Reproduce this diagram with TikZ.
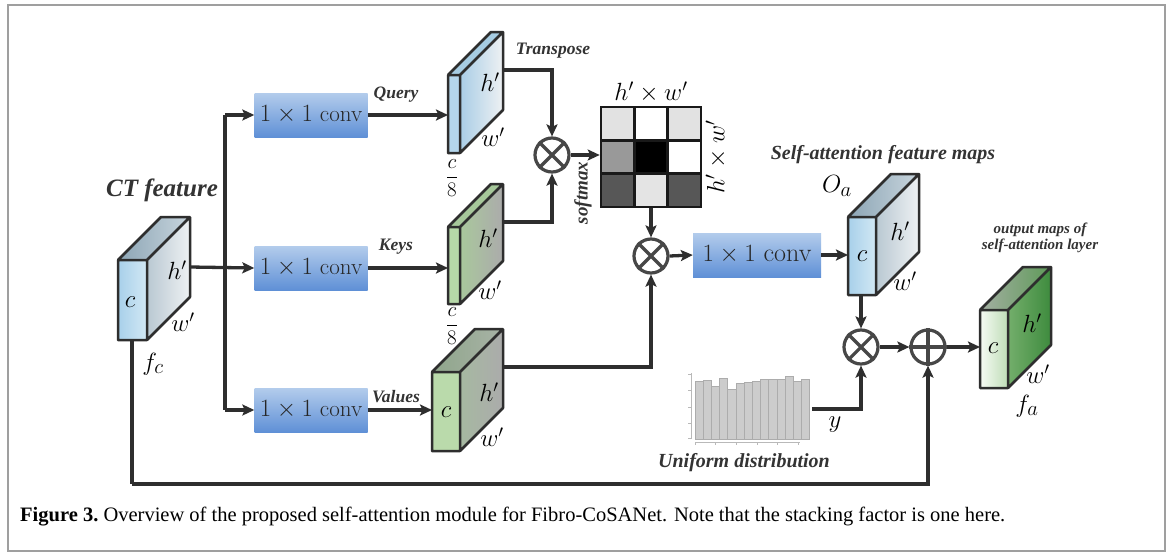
\documentclass[tikz,border=0pt]{standalone}
\usepackage{fontspec}
\newfontfamily\labfont{Liberation Serif}
\usetikzlibrary{arrows.meta,calc}
\definecolor{convtop}{HTML}{B3CCEC}
\definecolor{convbot}{HTML}{5F90D6}
\definecolor{linec}{HTML}{2E2E2E}
\newcommand\blk[6]{%
 \shade[#5 front] (#1,#2) rectangle ({#1+#3},{#2+#4});
 \shade[#5 side] ({#1+#3},#2) -- ({#1+#3+#6},{#2-#6}) -- ({#1+#3+#6},{#2+#4-#6}) -- ({#1+#3},{#2+#4}) -- cycle;
 \shade[#5 top] (#1,#2) -- ({#1+#6},{#2-#6}) -- ({#1+#3+#6},{#2-#6}) -- ({#1+#3},#2) -- cycle;
 \draw[blkline] (#1,#2) rectangle ({#1+#3},{#2+#4}) ({#1+#3},{#2+#4}) -- ({#1+#3+#6},{#2+#4-#6}) -- ({#1+#3+#6},{#2-#6}) -- ({#1+#6},{#2-#6}) -- (#1,#2) ({#1+#3},#2) -- ({#1+#3+#6},{#2-#6});
}
\tikzset{
 blkline/.style={draw=linec, line width=2.5pt, line join=round},
 ct front/.style={left color=Aqft, right color=Aqfr},
 ct side/.style={left color=Aqsl, right color=Aqsr},
 ct top/.style={left color=Aqtl, right color=Aqtr},
 qy front/.style={left color=Bqf, right color=Bqf},
 qy side/.style={left color=Bqsl, right color=Bqsr},
 qy top/.style={left color=Bqt, right color=Bqt},
 ky front/.style={left color=Kf, right color=Kf},
 ky side/.style={left color=Ksl, right color=Ksr},
 ky top/.style={left color=Kt, right color=Kt},
 vl front/.style={left color=Vf, right color=Vf},
 vl side/.style={left color=Vsl, right color=Vsr},
 vl top/.style={left color=Vtl, right color=Vtr},
 ou front/.style={left color=Of1, right color=Of2},
 ou side/.style={left color=Osl, right color=Osr},
 ou top/.style={left color=Otl, right color=Otr},
 conn/.style={line width=3.3pt, draw=linec, -{Stealth[length=12pt,width=11pt,inset=2.5pt]}},
 plain/.style={line width=3.3pt, draw=linec},
 convbox/.style={rectangle, top color=convtop, bottom color=convbot, minimum width=113pt, minimum height=44pt, inner sep=0pt, font=\fontsize{23}{23}\selectfont, text=black!85},
 op/.style={circle, draw=black!72, line width=3.2pt, minimum size=34pt, inner sep=0pt, fill=white},
 oplines/.style={draw=black!72, line width=3.2pt},
 lbl/.style={font=\labfont\bfseries\itshape\fontsize{17.5}{17.5}\selectfont, text=black!80, inner sep=0pt},
 mlab/.style={font=\fontsize{24}{24}\selectfont, inner sep=0pt},
 fraclab/.style={font=\fontsize{21}{21}\selectfont, inner sep=0pt},
}
\definecolor{Aqft}{HTML}{A8D0EA}\definecolor{Aqfr}{HTML}{D2E8F4}
\definecolor{Aqsl}{HTML}{B9C8D2}\definecolor{Aqsr}{HTML}{EEF1F3}
\definecolor{Aqtl}{HTML}{8CA5B5}\definecolor{Aqtr}{HTML}{C8D5DD}
\definecolor{Bqf}{HTML}{B4D6EC}
\definecolor{Bqsl}{HTML}{A9CDE6}\definecolor{Bqsr}{HTML}{EEF1F3}
\definecolor{Bqt}{HTML}{A6CCE2}
\definecolor{Kf}{HTML}{B6D8A8}
\definecolor{Ksl}{HTML}{A9C89C}\definecolor{Ksr}{HTML}{ABABAB}
\definecolor{Kt}{HTML}{A6C79A}
\definecolor{Vf}{HTML}{BADAAB}
\definecolor{Vsl}{HTML}{A6B9A1}\definecolor{Vsr}{HTML}{ABABAB}
\definecolor{Vtl}{HTML}{8FA58B}\definecolor{Vtr}{HTML}{A8B3A6}
\definecolor{Of1}{HTML}{F6FAF4}\definecolor{Of2}{HTML}{BEDDB6}
\definecolor{Osl}{HTML}{73AE6B}\definecolor{Osr}{HTML}{3E8B3E}
\definecolor{Otl}{HTML}{A4AFA2}\definecolor{Otr}{HTML}{5E9A59}
\begin{document}
\begin{tikzpicture}[x=1pt,y=-1pt]
\useasboundingbox (0,0) rectangle (1171,555);
\fill[white] (0,0) rectangle (1171,555);
\draw[gray!75, line width=2.2pt] (8,5) rectangle (1165,551);

% blocks
\blk{118}{260}{29}{80}{ct}{43}
\blk{448}{75}{12}{78}{qy}{43}
\blk{448}{227}{12}{77}{ky}{43}
\blk{432}{372}{28}{79}{vl}{43}
\blk{848}{217}{28}{78}{ct}{43}
\blk{980}{310}{28}{78}{ou}{43}

% attention matrix
\foreach \c [count=\i from 0] in {E2E2E2,FFFFFF,E2E2E2,999999,000000,FFFFFF,575757,E4E4E4,575757}{
  \pgfmathtruncatemacro\r{div(\i,3)}
  \pgfmathtruncatemacro\k{mod(\i,3)}
  \definecolor{cellc}{HTML}{\c}
  \fill[cellc] ({601+\k*33.33},{107+\r*33.33}) rectangle ({601+(\k+1)*33.33},{107+(\r+1)*33.33});
}
\node[draw=black!90, line width=2.6pt, minimum size=100pt, inner sep=0pt] (att) at (651,157) {};
\draw[black!90, line width=2.6pt] (634.33,107) -- (634.33,207) (667.67,107) -- (667.67,207) (601,140.33) -- (701,140.33) (601,173.67) -- (701,173.67);

% histogram
\foreach \t [count=\i from 0] in {381,380,386,378,389,383,382,381,379,379,379,376,381,379}{
  \filldraw[fill=gray!40, draw=gray!65, line width=0.8pt] ({695+\i*8.2},439) rectangle ({695+(\i+1)*8.2},\t);
}
\draw[gray!55, line width=0.7pt] (691,373) -- (691,439);
\foreach \yy in {374,390,407,423,438} \draw[gray!55, line width=0.7pt] (688,\yy) -- (691,\yy);
\draw[gray!55, line width=0.7pt] (695,442) -- (800,442);
\foreach \xx in {695,715,736,757,777,798} \draw[gray!55, line width=0.7pt] (\xx,442) -- (\xx,445);
\coordinate (histout) at (812,409);

% conv boxes
\node[convbox] (cq) at (311,115) {$1\times1$ conv};
\node[convbox] (ck) at (311,268) {$1\times1$ conv};
\node[convbox] (cv) at (311,410) {$1\times1$ conv};
\node[convbox, minimum width=128pt, font=\fontsize{26}{26}\selectfont] (cm) at (757,255) {$1\times1$ conv};

% operators
\node[op] (m1) at (552,155) {};
\node[op] (m2) at (651,256) {};
\node[op] (m3) at (861,347) {};
\node[op] (p1) at (928,347) {};
\foreach \n in {m1,m2,m3} \draw[oplines] (\n.north east) -- (\n.south west) (\n.north west) -- (\n.south east);
\draw[oplines] (p1.north) -- (p1.south) (p1.west) -- (p1.east);

% anchor coordinates on blocks
\coordinate (ctout) at (190,267);
\coordinate (ctbot) at (132,341);
\coordinate (tq) at (225,115);
\coordinate (tv) at (225,410);
\coordinate (qin) at (448,115);
\coordinate (kin) at (448,268);
\coordinate (vin) at (432,410);
\coordinate (qout) at (503,70);
\coordinate (kout) at (502,222);
\coordinate (vout) at (503,367);
\coordinate (oin) at (848,255);
\coordinate (obot) at (861,296);
\coordinate (fin) at (980,347);
\coordinate (bl) at (132,484);

% connectors
\draw[plain] (tq) -- (tv);
\draw[conn] (tq) -- (cq.west);
\draw[conn] (ctout) -- (ck.west);
\draw[conn] (tv) -- (cv.west);
\draw[conn] (cq.east) -- (qin);
\draw[conn] (ck.east) -- (kin);
\draw[conn] (cv.east) -- (vin);
\draw[conn] (qout) -| (m1.north);
\draw[conn] (kout) -| (m1.south);
\draw[conn] (m1.east) -- (m1.east -| att.west);
\draw[conn] (att.south) -- (m2.north);
\draw[conn] (vout) -| (m2.south);
\draw[conn] (m2.east) -- (cm.west);
\draw[conn] (cm.east) -- (oin);
\draw[conn] (obot) -- (m3.north);
\draw[conn] (histout) -| (m3.south);
\draw[conn] (m3.east) -- (p1.west);
\draw[conn] (p1.east) -- (fin);
\draw[plain] (ctbot) -- (bl);
\draw[conn] (bl) -| (p1.south);

% block labels
\node[mlab] (l1) at (130,302) {$c$};
\node[mlab] (l2) at (177,270) {$h'$};
\node[mlab] (l3) at (183,322) {$w'$};
\node[mlab, font=\fontsize{31}{31}\selectfont] (fc) at (153,364) {$f_c$};
\node[mlab] (l4) at (490,82) {$h'$};
\node[mlab] (l5) at (493,137) {$w'$};
\node[fraclab] (l6) at (452,178) {$\displaystyle\frac{c}{8}$};
\node[mlab] (l7) at (488,238) {$h'$};
\node[mlab] (l8) at (490,290) {$w'$};
\node[fraclab] (l9) at (452,326) {$\displaystyle\frac{c}{8}$};
\node[mlab] (l10) at (446,412) {$c$};
\node[mlab] (l11) at (489,392) {$h'$};
\node[mlab] (l12) at (492,437) {$w'$};
\node[mlab] (l13) at (862,256) {$c$};
\node[mlab] (l14) at (900,231) {$h'$};
\node[mlab] (l15) at (905,281) {$w'$};
\node[mlab, font=\fontsize{30}{30}\selectfont] (oa) at (837,186) {$O_a$};
\node[mlab] (l16) at (993,348) {$c$};
\node[mlab] (l17) at (1032,323) {$h'$};
\node[mlab] (l18) at (1038,374) {$w'$};
\node[mlab, font=\fontsize{28}{28}\selectfont] (fa) at (1027,406) {$f_a$};
\node[mlab, font=\fontsize{26}{26}\selectfont] (yl) at (835,425) {$y$};
\node[mlab] (mt) at (651,92) {$h'\times w'$};
\node[mlab, rotate=90] (mr) at (716,157) {$h'\times w'$};

% text labels
\node[lbl, font=\labfont\bfseries\itshape\fontsize{25}{25}\selectfont] (ctf) at (162,190) {CT feature};
\node[lbl] (tq1) at (396,95) {Query};
\node[lbl] (tk1) at (396,247) {Keys};
\node[lbl] (tv1) at (396,397) {Values};
\node[lbl] (ttr) at (553,51) {Transpose};
\node[lbl, rotate=90, font=\labfont\bfseries\itshape\fontsize{19}{19}\selectfont] (tsm) at (583,193) {softmax};
\node[lbl, font=\labfont\bfseries\itshape\fontsize{20}{20}\selectfont] (tsa) at (883,155) {Self-attention feature maps};
\node[lbl, font=\labfont\bfseries\itshape\fontsize{15}{15}\selectfont, align=center] (tout) at (1040,238) {output maps of\\[1pt]self-attention layer};
\node[lbl, font=\labfont\bfseries\itshape\fontsize{20}{20}\selectfont] (tud) at (744,463) {Uniform distribution};

% caption
\node[anchor=west, inner sep=0pt, font=\labfont\fontsize{20.5}{20.5}\selectfont] (cap) at (20,517) {\textbf{Figure 3.}\ Overview of the proposed self-attention module for Fibro-CoSANet. Note that the stacking factor is one here.};
\end{tikzpicture}
\end{document}
